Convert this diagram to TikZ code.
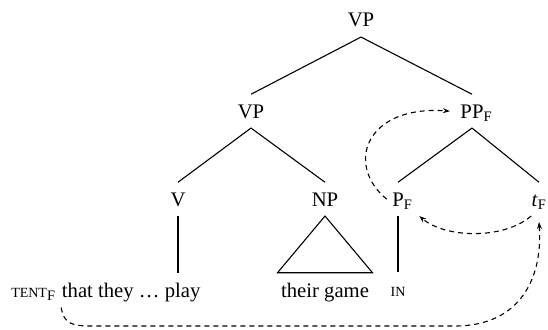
\documentclass[tikz,border=0pt]{standalone}
\usepackage{fontspec}
\setmainfont{Liberation Serif}
\usetikzlibrary{arrows.meta}
\newcommand{\smc}[1]{{\fontsize{14}{16}\selectfont #1}}
\newcommand{\foc}{\textsubscript{F}}
\tikzset{
	cat/.style={anchor=base, inner xsep=0pt, inner ysep=9.5pt, text height=13.7pt, text depth=0pt},
	leaf/.style={anchor=base, inner xsep=0pt, inner ysep=10pt, text height=13.7pt, text depth=0pt},
	move/.style={->, dash pattern=on 5pt off 4pt}
}

\begin{document}
\begin{tikzpicture}[x=1pt,y=-1pt,line width=1.1pt,>={Stealth[length=7pt,width=5pt]},
		every node/.style={font=\fontsize{20.7}{24}\selectfont}]
	\useasboundingbox (0,0) rectangle (548,329);
	% categories
	\node[cat] (vp0) at (361,27)  {VP};
	\node[cat] (vp1) at (251,118) {VP};
	\node[cat] (ppf) at (472,118) {PP\rlap{\foc}};
	\node[cat] (v)   at (178,206) {V};
	\node[cat] (np)  at (325,206) {NP};
	\node[cat] (pf)  at (398,206) {P\rlap{\foc}};
	\node[cat] (tf)  at (539,206) {\textit{t}\foc};
	% words
	\node[leaf, anchor=base east] (lv) at (201,297) {that they … play};
	\node[leaf, anchor=base east, xshift=-5.2pt] (tent) at (lv.base west) {\smc{TENT}\foc};
	\node[leaf] (game) at (325,297) {their game};
	\node[leaf] (in)   at (398,296) {\smc{IN}};

	\draw (vp0.south) -- (vp1.north);
	\draw (vp0.south) -- (ppf.north);
	\draw (vp1.south) -- (v.north);
	\draw (vp1.south) -- (np.north);
	\draw (ppf.south) -- (pf.north);
	\draw (ppf.south) -- (tf.north);
	\draw (v.south) -- (v.south |- lv.north);
	\draw (np.south) -- ([xshift=-3pt]game.north west) -- ([xshift=3pt]game.north east) -- cycle;
	\draw (pf.south) -- (in.north);

	% movement
	\draw[move] ([xshift=-5pt]pf.west) .. controls (345,165) and (365,105) .. ([xshift=-10pt]ppf.west);
	\draw[move] (tf.south west) .. controls (503,240) and (445,238) .. ([xshift=15pt]pf.south east);
	\draw[move] ([xshift=5pt]tent.south east) .. controls (64,324) and (72,326) .. (92,326) -- (455,326)
		.. controls (520,326) and (543,278) .. ([yshift=-6pt]tf.south);
\end{tikzpicture}
\end{document}
